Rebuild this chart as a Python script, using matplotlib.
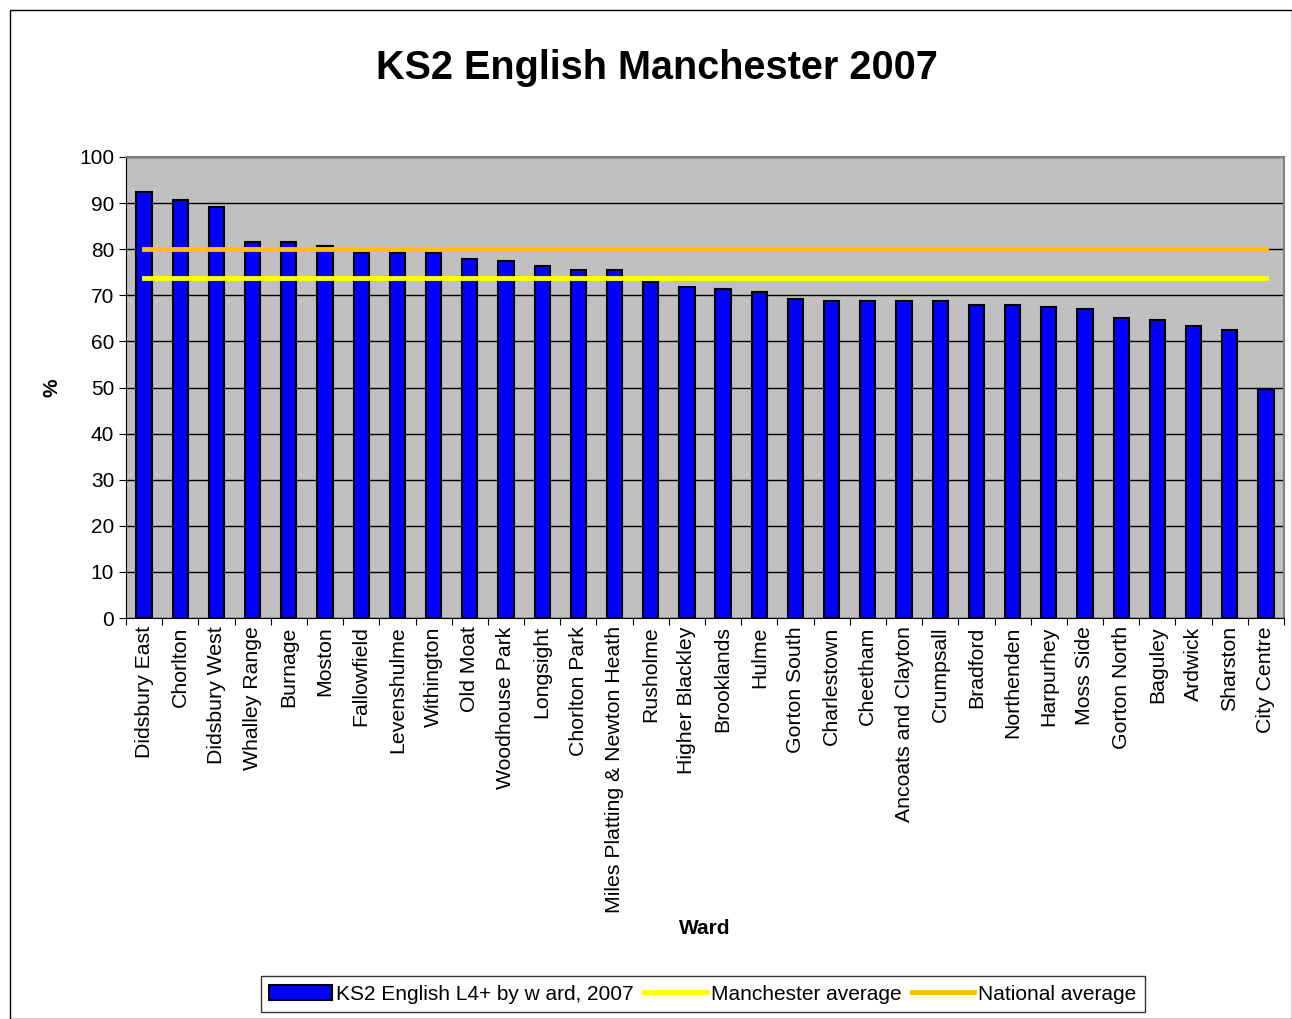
import matplotlib.pyplot as plt
import numpy as np

plt.rcParams['font.family'] = ['Liberation Sans', 'DejaVu Sans']

wards = ["Didsbury East", "Chorlton", "Didsbury West", "Whalley Range", "Burnage",
         "Moston", "Fallowfield", "Levenshulme", "Withington", "Old Moat",
         "Woodhouse Park", "Longsight", "Chorlton Park", "Miles Platting & Newton Heath",
         "Rusholme", "Higher Blackley", "Brooklands", "Hulme", "Gorton South",
         "Charlestown", "Cheetham", "Ancoats and Clayton", "Crumpsall", "Bradford",
         "Northenden", "Harpurhey", "Moss Side", "Gorton North", "Baguley",
         "Ardwick", "Sharston", "City Centre"]
scores = [92.4, 90.7, 89.2, 81.6, 81.6, 80.8, 79.1, 79.1, 79.1, 77.9,
          77.5, 76.3, 75.5, 75.5, 72.9, 71.7, 71.3, 70.8, 69.2, 68.8,
          68.8, 68.8, 68.8, 68.0, 68.0, 67.5, 67.1, 65.1, 64.6, 63.4,
          62.5, 49.7]
manchester_avg = 73.8
national_avg = 80.0

fig = plt.figure(figsize=(12.92, 10.19), dpi=100)
ax = fig.add_axes([126/1292, 1 - 618/1019, (1284-126)/1292, (618-157)/1019])

# outer chart border
fig.patches.append(plt.Rectangle((10/1292, 0), 1 - 10/1292, 1 - 10/1019,
                                 transform=fig.transFigure, fill=False,
                                 edgecolor='black', linewidth=1))

x = np.arange(len(wards))
ax.set_facecolor('#C0C0C0')
bars = ax.bar(x, scores, width=0.42, color='#0000FF', edgecolor='black', linewidth=1.5,
              label='KS2 English L4+ by w ard, 2007', zorder=3)
l1, = ax.plot([x[0], x[-1]], [manchester_avg] * 2, color='#FFFF00', linewidth=3.5,
              label='Manchester average', zorder=4)
l2, = ax.plot([x[0], x[-1]], [national_avg] * 2, color='#FFC000', linewidth=3.5,
              label='National average', zorder=4)

ax.set_xlim(-0.5, len(wards) - 0.5)
ax.set_ylim(0, 100)
ax.set_yticks(np.arange(0, 101, 10))
ax.yaxis.grid(True, color='black', linewidth=1)
ax.set_axisbelow(True)
ax.set_xticks(np.arange(-0.5, len(wards), 1), minor=False)
ax.set_xticklabels([])
ax.set_xticks(x, minor=True)
ax.set_xticklabels(wards, minor=True, rotation=90, fontsize=15.3)
ax.tick_params(axis='x', which='minor', length=0, pad=6)
ax.tick_params(axis='x', which='major', length=5, direction='out')
ax.tick_params(axis='y', labelsize=15, length=5, direction='out')

for s in ['top', 'right']:
    ax.spines[s].set_color('#808080')
    ax.spines[s].set_linewidth(1.5)
for s in ['left', 'bottom']:
    ax.spines[s].set_color('black')

ax.set_ylabel('%', fontsize=15, fontweight='bold')
ax.yaxis.set_label_coords((62 - 126) / 1158, 0.5)
fig.text(705/1292, 1 - 929/1019, 'Ward', fontsize=15,
         fontweight='bold', ha='center', va='center')
fig.text(657/1292, 1 - 68/1019, 'KS2 English Manchester 2007', fontsize=28.5,
         fontweight='bold', ha='center', va='center')

fig.legend([bars, l1, l2], [bars.get_label(), l1.get_label(), l2.get_label()],
           loc='center', bbox_to_anchor=(703/1292, 1 - 994/1019), ncol=3,
           fontsize=15, frameon=True, fancybox=False, edgecolor='black',
           handlelength=3, handletextpad=0.2, columnspacing=0.5,
           borderpad=0.4)

fig.savefig('out.png', dpi=100, facecolor='white')
